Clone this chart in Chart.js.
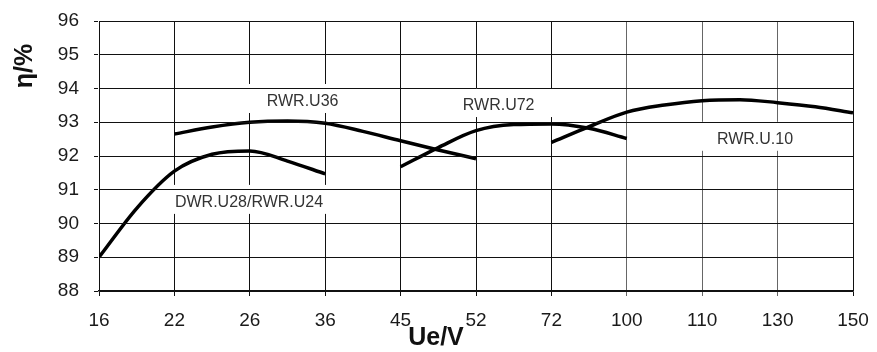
<!DOCTYPE html>
<html>
<head>
<meta charset="utf-8">
<script src="https://cdn.jsdelivr.net/npm/chart.js@4/dist/chart.umd.min.js"></script>
<style>
  html, body { margin: 0; padding: 0; background: #fff; }
  #wrap { width: 877px; height: 352px; }
</style>
</head>
<body>
<div id="wrap"><canvas id="effChart"></canvas></div>
<script>
// x axis: input voltages, drawn at equal spacing (index 0..10)
const voltageLabels = ['16', '22', '26', '36', '45', '52', '72', '100', '110', '130', '150'];
const yMin = 88;
const yMax = 96;

// curves: positions along the voltage axis (index units) and efficiency in %
const u24X = [0, 0.5, 1, 1.5, 2, 2.5, 3];
const u24Y = [89, 90.45, 91.55, 92.05, 92.15, 91.85, 91.47];

const u36X = [1, 1.5, 2, 2.5, 3, 3.5, 4, 4.5, 5];
const u36Y = [92.65, 92.86, 93.0, 93.04, 92.97, 92.73, 92.45, 92.18, 91.92];

const u72X = [4, 4.5, 5, 5.5, 6, 6.5, 7];
const u72Y = [91.68, 92.25, 92.75, 92.93, 92.95, 92.82, 92.52];

const u10X = [6, 6.5, 7, 7.5, 8, 8.5, 9, 9.5, 10];
const u10Y = [92.4, 92.87, 93.3, 93.51, 93.64, 93.67, 93.58, 93.46, 93.28];

// curve labels (text, x index, y value)
const labelTexts = ['RWR.U36', 'RWR.U72', 'RWR.U.10', 'DWR.U28/RWR.U24'];
const labelX = [2.7, 5.3, 8.7, 1.99];
const labelY = [93.63, 93.51, 92.51, 90.64];

function toPoints(xs, ys) {
    return xs.map((x, i) => ({ x: x, y: ys[i] }));
}

function curve(xs, ys) {
    return {
        data: toPoints(xs, ys),
        borderColor: '#000',
        borderWidth: 3.5,
        pointRadius: 0,
        fill: false,
        cubicInterpolationMode: 'monotone'
    };
}

// white boxes break the vertical grid lines (y grid is drawn later, on top)
const curveLabels = {
    id: 'curveLabels',
    beforeDatasetsDraw(chart) {
        const ctx = chart.ctx;
        const xs = chart.scales.x;
        const ys = chart.scales.y;
        ctx.save();
        ctx.font = '16px "Liberation Sans", Arial, sans-serif';
        ctx.textAlign = 'center';
        ctx.textBaseline = 'middle';
        labelTexts.forEach((t, i) => {
            const px = xs.getPixelForValue(labelX[i]);
            const py = ys.getPixelForValue(labelY[i]);
            const w = ctx.measureText(t).width + 36;
            ctx.fillStyle = '#fff';
            ctx.fillRect(px - w / 2, py - 17, w, 29);
            ctx.fillStyle = '#333';
            ctx.fillText(t, px, py + 1);
        });
        ctx.restore();
    }
};

// axis titles placed like the original (not centred on the axes)
const axisTitles = {
    id: 'axisTitles',
    afterDraw(chart) {
        const ctx = chart.ctx;
        ctx.save();
        // clear the far left margin (stray stroke from the raised y grid layer)
        ctx.fillStyle = '#fff';
        ctx.fillRect(0, 0, 8, chart.height);
        ctx.fillStyle = '#111';
        ctx.font = 'bold 25px "Liberation Sans", Arial, sans-serif';
        ctx.textAlign = 'center';
        ctx.textBaseline = 'middle';
        ctx.fillText('Ue/V', 436, 338);
        ctx.translate(25, 66);
        ctx.rotate(-Math.PI / 2);
        ctx.fillText('η/%', 0, 0);
        ctx.restore();
    }
};

new Chart(document.getElementById('effChart'), {
    type: 'line',
    data: {
        datasets: [
            curve(u24X, u24Y),
            curve(u36X, u36Y),
            curve(u72X, u72Y),
            curve(u10X, u10Y)
        ]
    },
    options: {
        responsive: true,
        maintainAspectRatio: false,
        animation: false,
        layout: { padding: { left: 0, right: 24, top: 21, bottom: 0 } },
        plugins: {
            legend: { display: false },
            tooltip: { enabled: false }
        },
        scales: {
            x: {
                type: 'linear',
                min: 0,
                max: voltageLabels.length - 1,
                afterFit: s => {
                    s.height = 61;
                    s.paddingLeft = 0;
                    s.paddingRight = 0;
                },
                ticks: {
                    stepSize: 1,
                    padding: 13,
                    color: '#1a1a1a',
                    font: { family: '"Liberation Sans", Arial, sans-serif', size: 19 },
                    callback: v => voltageLabels[v]
                },
                grid: {
                    color: c => (c.index >= 7 && c.index <= 9) ? '#666' : '#111',
                    lineWidth: 1,
                    tickLength: 5
                },
                border: { color: '#111', width: 1.5 }
            },
            y: {
                min: yMin,
                max: yMax,
                afterFit: s => {
                    s.width = 99;
                    s.paddingTop = 0;
                    s.paddingBottom = 0;
                },
                ticks: {
                    stepSize: 1,
                    padding: 15,
                    color: '#1a1a1a',
                    font: { family: '"Liberation Sans", Arial, sans-serif', size: 19 }
                },
                grid: {
                    z: 1,
                    color: '#111',
                    lineWidth: 1,
                    tickLength: 5
                },
                border: { color: '#111', width: 1.5 }
            }
        }
    },
    plugins: [curveLabels, axisTitles]
});
</script>
</body>
</html>
